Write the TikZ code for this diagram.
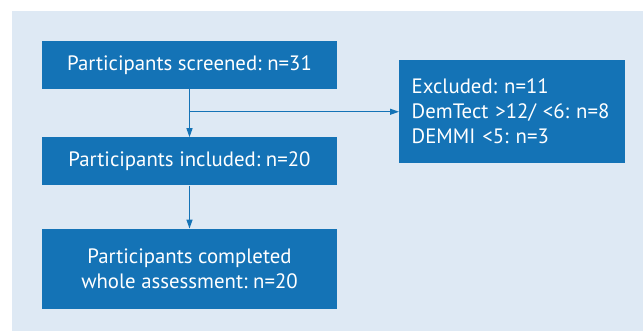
\documentclass[tikz,border=0pt]{standalone}
\usepackage{fontspec}
\setmainfont{PT Sans}
\usetikzlibrary{positioning,arrows.meta,calc}
\definecolor{cbox}{RGB}{20,115,182}
\definecolor{cpanel}{RGB}{222,233,244}
\frenchspacing

\begin{document}
\begin{tikzpicture}[
  x=1pt,y=1pt,
  font=\fontsize{20.8}{25}\selectfont,
  box/.style={rectangle,fill=cbox,text=white,minimum width=295pt,minimum height=48pt,inner sep=0pt,align=center},
  a/.style={-{Triangle[length=9pt,width=6pt]},draw=cbox,fill=cbox,line width=1.2pt},
]
% panel behind the chart
\fill[cpanel] (12,-11) rectangle (643,-331);
\useasboundingbox (0,0) rectangle (643,-331);

% main column
\node[box] (screen) at (189.5,-65) {Participants screened: n=31};
\node[box,below=48pt of screen] (incl) {Participants included: n=20};
\node[box,below=43pt of incl,minimum height=80pt] (done) {Participants completed\\whole assessment: n=20};

% side box
\node[box,anchor=west,minimum width=0pt,minimum height=103pt,inner xsep=12.5pt,text width=201pt,align=left] (excl) at (399,-111.5) {Excluded: n=11\\DemTect >12/ <6: n=8\\DEMMI <5: n=3};

\draw[a] (screen) -- (incl);
\draw[a] (incl) -- (done);
\coordinate (split) at ($(screen.south)!0.47!(incl.north)$);
\draw[a] (split) -- (split -| excl.west);
\end{tikzpicture}
\end{document}
